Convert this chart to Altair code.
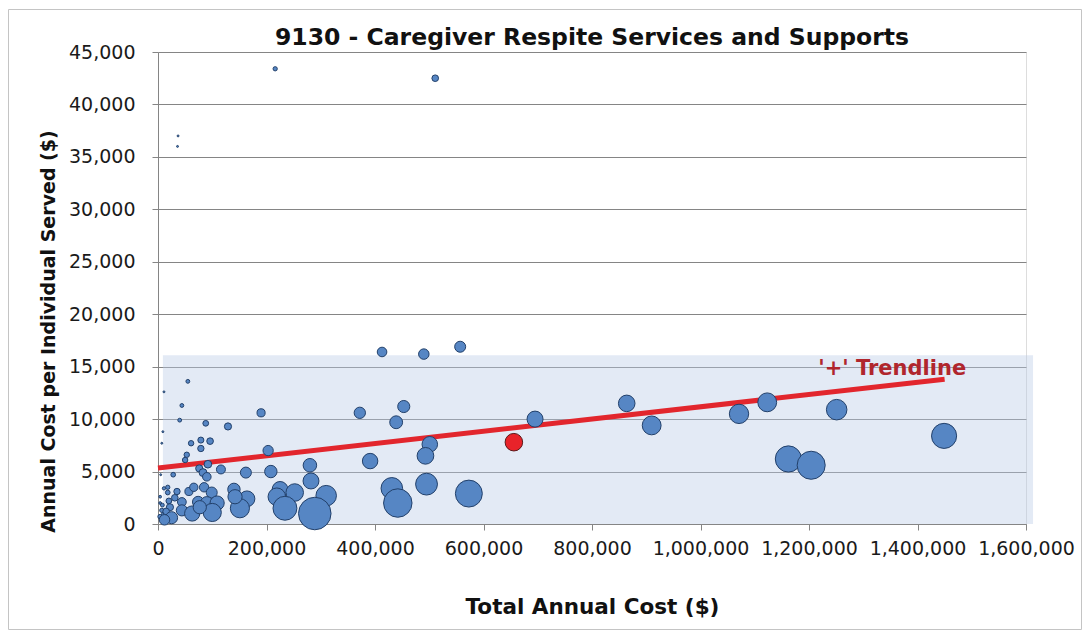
import altair as alt
import pandas as pd

# ---- data (x: total annual cost $, y: cost per individual $, ind: individuals served) ----
total_cost = [216000, 511000, 37000, 36000,
              413000, 490000, 557000, 372000, 453000, 439000, 501000, 493000, 391000,
              431000, 442000, 495000, 573000, 695000, 864000, 910000, 1071000, 1123000,
              1162000, 1204000, 1251000, 1449000,
              190000, 203000, 162000, 208000, 280000, 282000, 225000, 219000, 252000, 310000,
              234000, 289000, 164000, 151000,
              55000, 11000, 44000, 40000, 9000, 7000, 88000, 129000, 61000, 79000, 96000,
              79000, 53000, 50000, 76000, 92000, 116000, 83000, 90000, 5000, 28000, 11000,
              18000, 18000, 35000, 57000, 66000, 85000, 99000, 140000, 142000, 74000, 90000,
              109000, 44000, 31000, 22000, 44000, 63000, 100000, 13000, 4000, 4000, 7000,
              4000, 77000, 8000, 15000, 20000, 25000, 12000]
cost_per_person = [43400, 42500, 37000, 36000,
                   16400, 16200, 16900, 10600, 11200, 9700, 7600, 6500, 6000,
                   3400, 2000, 3800, 2900, 10000, 11500, 9400, 10500, 11600,
                   6200, 5600, 10900, 8400,
                   10600, 7000, 4900, 5000, 5600, 4100, 3300, 2600, 3000, 2700,
                   1500, 1000, 2400, 1500,
                   13600, 12600, 11300, 9900, 8800, 7700, 9600, 9300, 7700, 8000, 7900,
                   7200, 6600, 6100, 5300, 5700, 5200, 4900, 4500, 4700, 4700, 3400,
                   3500, 3000, 3100, 3100, 3500, 3500, 3000, 3300, 2600, 2100, 2000,
                   2000, 2100, 2500, 1600, 1300, 1000, 1100, 900, 2600, 2000, 1300,
                   700, 1600, 1800, 1200, 2200, 600, 400]
individuals = [5, 12, 1, 1,
               25, 30, 33, 35, 40, 45, 66, 76, 65,
               127, 221, 130, 198, 70, 75, 97, 102, 97,
               187, 215, 115, 172,
               18, 29, 33, 42, 50, 69, 68, 84, 84, 115,
               156, 289, 68, 100,
               4, 1, 4, 4, 1, 1, 9, 14, 8, 10, 12,
               11, 8, 8, 14, 16, 22, 17, 20, 1, 6, 3,
               5, 6, 11, 18, 19, 24, 33, 42, 55, 35, 45,
               55, 21, 12, 14, 34, 63, 90, 14, 2, 2, 5,
               6, 48, 4, 12, 9, 40, 30]

# highlighted program (red bubble)
hl_cost = [656000]
hl_per_person = [7800]
hl_individuals = [84]

# shaded band behind the bubbles
band_x = [9000]
band_x2 = [1613000]
band_y = [0]
band_y2 = [16100]

# "+" trendline end points
trend_x = [0, 1450000]
trend_y = [5340, 13800]

label_x = [1217000]
label_y = [14800]
label_text = ["'+' Trendline"]

x_ticks = [0, 200000, 400000, 600000, 800000, 1000000, 1200000, 1400000, 1600000]
y_ticks = [0, 5000, 10000, 15000, 20000, 25000, 30000, 35000, 40000, 45000]

# ---- tables ----
pts = pd.DataFrame({"x": total_cost, "y": cost_per_person, "ind": individuals})
hl = pd.DataFrame({"x": hl_cost, "y": hl_per_person, "ind": hl_individuals})
band_df = pd.DataFrame({"x": band_x, "x2": band_x2, "y": band_y, "y2": band_y2})
trend_df = pd.DataFrame({"x": trend_x, "y": trend_y})
label_df = pd.DataFrame({"x": label_x, "y": label_y, "t": label_text})
frame_df = pd.DataFrame({"k": [0]})

FONT = "DejaVu Sans"
GRID = "#858585"

xscale = alt.Scale(domain=[0, 1600000], nice=False)
yscale = alt.Scale(domain=[0, 45000], nice=False)
sscale = alt.Scale(domain=[0, 300], range=[0, 1100])

xaxis = alt.Axis(title="Total Annual Cost ($)", values=x_ticks, format=",.0f", grid=False,
                 domainColor=GRID, tickColor=GRID, tickSize=6, labelFont=FONT,
                 labelFontSize=19, labelColor="#1a1a1a", labelPadding=9, labelFlush=False,
                 labelOverlap=False, titleFont=FONT, titleFontSize=21.5, titleFontWeight="bold",
                 titleColor="#111111", titleY=83, titleBaseline="middle")
yaxis = alt.Axis(title="Annual Cost per Individual Served ($)", values=y_ticks, format=",.0f",
                 grid=True, gridColor=GRID, gridWidth=1, domainColor=GRID, tickColor=GRID,
                 tickSize=6, labelFont=FONT, labelFontSize=19, labelColor="#1a1a1a",
                 labelPadding=17, titleFont=FONT, titleFontSize=19, titleFontWeight="bold",
                 titleColor="#111111", titleX=-110, titleY=279, titleBaseline="middle")

band = alt.Chart(band_df).mark_rect(color="#b9cbe6", opacity=0.4).encode(
    x=alt.X("x:Q", scale=xscale, axis=xaxis), x2="x2:Q",
    y=alt.Y("y:Q", scale=yscale, axis=yaxis), y2="y2:Q")

trend = alt.Chart(trend_df).mark_line(color="#e2262d", strokeWidth=5).encode(
    x=alt.X("x:Q", scale=xscale, axis=xaxis), y=alt.Y("y:Q", scale=yscale, axis=yaxis))

bubbles = alt.Chart(pts).mark_circle(opacity=1, fill="#5686c4", stroke="#22406a",
                                      strokeWidth=1).encode(
    x=alt.X("x:Q", scale=xscale, axis=xaxis), y=alt.Y("y:Q", scale=yscale, axis=yaxis),
    size=alt.Size("ind:Q", scale=sscale, legend=None))

red = alt.Chart(hl).mark_circle(opacity=1, fill="#e8232a", stroke="#5a1a1a",
                                strokeWidth=1).encode(
    x=alt.X("x:Q", scale=xscale, axis=xaxis), y=alt.Y("y:Q", scale=yscale, axis=yaxis),
    size=alt.Size("ind:Q", scale=sscale, legend=None))

label = alt.Chart(label_df).mark_text(align="left", baseline="middle", font=FONT,
                                      fontSize=21, fontWeight="bold", color="#b0262d").encode(
    x=alt.X("x:Q", scale=xscale, axis=xaxis), y=alt.Y("y:Q", scale=yscale, axis=yaxis),
    text="t:N")

frame = alt.Chart(frame_df).mark_rect(fill=None, stroke="#c4c4c4", strokeWidth=1).encode(
    x=alt.value(-149.5), x2=alt.value(923.5), y=alt.value(-42.5), y2=alt.value(577.5))

chart = alt.layer(frame, band, trend, bubbles, red, label).properties(
    width=868, height=472,
    title=alt.TitleParams("9130 - Caregiver Respite Services and Supports", font=FONT,
                          fontSize=23.5, fontWeight="bold", color="#111111", anchor="middle",
                          offset=-40),
    autosize=alt.AutoSizeParams(type="none"),
    padding={"left": 150, "top": 44, "right": 56, "bottom": 112},
).configure_view(stroke=None).configure(background="white")

chart.save("out.html", embed_options={"renderer": "svg", "actions": False})
